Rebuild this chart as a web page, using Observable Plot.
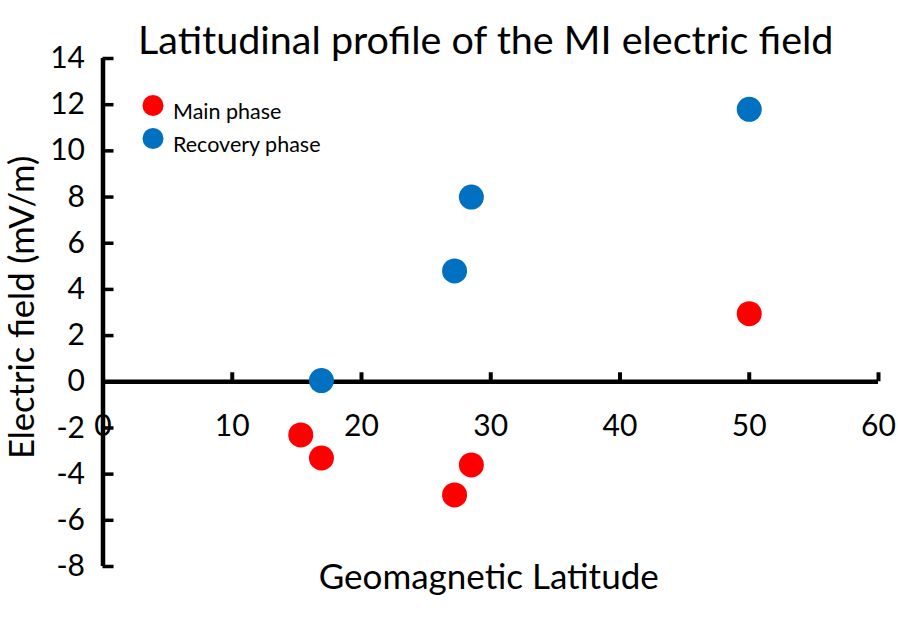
<!DOCTYPE html>
<html>
<head>
<meta charset="utf-8">
<script src="https://cdn.jsdelivr.net/npm/d3@7"></script>
<script src="https://cdn.jsdelivr.net/npm/@observablehq/plot@0.6"></script>
<style>
  html, body { margin: 0; padding: 0; background: #fff; }
  #chart svg { font-family: Lato, "Open Sans", sans-serif; display: block; }
</style>
</head>
<body>
<div id="chart"></div>
<script>
// ---- data ----
const title = "Latitudinal profile of the MI electric field";
const xLabel = "Geomagnetic Latitude";
const yLabel = "Electric field (mV/m)";

const xTicks = [0, 10, 20, 30, 40, 50, 60];
const yTicks = [-8, -6, -4, -2, 0, 2, 4, 6, 8, 10, 12, 14];

const seriesNames = ["Main phase", "Recovery phase"];
const seriesColors = ["#FF0000", "#0070C0"];

const mainLat = [15.3, 16.9, 27.2, 28.5, 50.0];
const mainField = [-2.3, -3.3, -4.9, -3.6, 2.95];

const recLat = [16.9, 27.2, 28.5, 50.0];
const recField = [0.05, 4.8, 8.0, 11.8];

// ---- build tables ----
const mainData = mainLat.map((x, i) => ({x, y: mainField[i]}));
const recData = recLat.map((x, i) => ({x, y: recField[i]}));

const legendMarks = seriesNames.flatMap((name, i) => [
  Plot.dot([name], {frameAnchor: "top-left", dx: 50, dy: 47 + i * 33, r: 10.5, fill: seriesColors[i], stroke: "none"}),
  Plot.text([name], {frameAnchor: "top-left", dx: 70, dy: 45 + i * 33, text: d => d, textAnchor: "start", fontSize: 21.5, fill: "#000"})
]);

const fmt = d => String(d);

const chart = Plot.plot({
  width: 898,
  height: 617,
  marginTop: 58,
  marginBottom: 51,
  marginLeft: 102.5,
  marginRight: 20,
  style: {fontFamily: "Lato, 'Open Sans', sans-serif", color: "#000", background: "#fff"},
  x: {domain: [xTicks[0], xTicks[xTicks.length - 1]]},
  y: {domain: [yTicks[0], yTicks[yTicks.length - 1]]},
  marks: [
    // tick labels
    Plot.axisY(yTicks, {anchor: "left", tickSize: 0, tickPadding: 18, fontSize: 30, label: null, tickFormat: fmt, fill: "#000"}),
    Plot.axisX(xTicks, {anchor: "bottom", tickSize: 0, tickPadding: 0, dy: -152, fontSize: 30, label: null, tickFormat: fmt, fill: "#000"}),
    // axis lines through zero
    Plot.ruleY([0], {stroke: "#000", strokeWidth: 4.5}),
    Plot.ruleX([0], {stroke: "#000", strokeWidth: 4.5}),
    // tick marks (x ticks point up, y ticks point right)
    Plot.ruleX(xTicks, {x: d => d, y1: 0, y2: 0, insetTop: -9, stroke: "#000", strokeWidth: 4}),
    Plot.ruleY(yTicks, {y: d => d, x1: 0, x2: 0, insetRight: -11, stroke: "#000", strokeWidth: 3.5}),
    // data
    Plot.dot(mainData, {x: "x", y: "y", r: 12.5, fill: seriesColors[0], stroke: "none"}),
    Plot.dot(recData, {x: "x", y: "y", r: 12.5, fill: seriesColors[1], stroke: "none"}),
    // legend
    ...legendMarks,
    // titles
    Plot.text([title], {frameAnchor: "top", dx: -5, dy: -33, text: d => d, fontSize: 39.5, fill: "#000"}),
    Plot.text([yLabel], {frameAnchor: "left", textAnchor: "middle", dx: -80, dy: -5, rotate: -90, text: d => d, fontSize: 34.5, fill: "#000"}),
    Plot.text([xLabel], {frameAnchor: "bottom", dx: -2, dy: 22, text: d => d, fontSize: 35, fill: "#000"})
  ]
});

document.getElementById("chart").appendChild(chart);
</script>
</body>
</html>
